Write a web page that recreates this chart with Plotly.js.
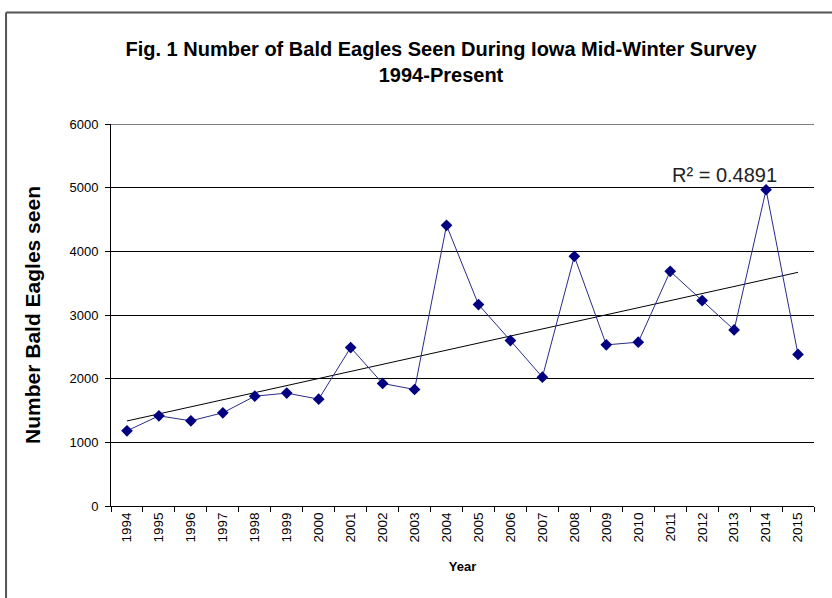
<!DOCTYPE html>
<html>
<head>
<meta charset="utf-8">
<script src="https://cdn.plot.ly/plotly-3.0.1.min.js"></script>
<style>html,body{margin:0;padding:0;background:#fff;}#chart{width:832px;height:598px;}</style>
</head>
<body>
<div id="chart"></div>
<script>
var years = ["1994","1995","1996","1997","1998","1999","2000","2001","2002","2003","2004","2005","2006","2007","2008","2009","2010","2011","2012","2013","2014","2015"];
var eagles = [1181,1416,1338,1464,1725,1773,1678,2489,1925,1830,4408,3164,2599,2024,3922,2531,2573,3686,3226,2766,4967,2380];
var yTicks = [0,1000,2000,3000,4000,5000,6000];
var r2Label = "R² = 0.4891";

// linear trendline (least squares over the year index)
var n = eagles.length, sx = 0, sy = 0, sxx = 0, sxy = 0;
for (var i = 0; i < n; i++) { sx += i; sy += eagles[i]; sxx += i*i; sxy += i*eagles[i]; }
var slope = (n*sxy - sx*sy) / (n*sxx - sx*sx);
var intercept = (sy - slope*sx) / n;
var trend = eagles.map(function(_, i){ return intercept + slope*i; });

var font = "Arial, 'Liberation Sans', sans-serif";

var data = [
  {x: years, y: trend, type: "scatter", mode: "lines", line: {color: "#000000", width: 1}, hoverinfo: "skip", showlegend: false},
  {x: years, y: eagles, type: "scatter", mode: "lines+markers",
   line: {color: "#2a2a8a", width: 1},
   marker: {symbol: "diamond", size: 9, color: "#000080"}, showlegend: false}
];

var layout = {
  width: 832, height: 598,
  paper_bgcolor: "#ffffff", plot_bgcolor: "#ffffff",
  margin: {l: 110.5, r: 18, t: 124, b: 92},
  font: {family: font, color: "#000"},
  title: {
    text: "<b>Fig. 1 Number of Bald Eagles Seen During Iowa Mid-Winter Survey<br>1994-Present</b>",
    font: {family: font, size: 20, color: "#000"},
    xref: "container", x: 441/832, xanchor: "center",
    yref: "container", y: 1 - 55.5/598, yanchor: "middle"
  },
  xaxis: {
    type: "category", tickson: "boundaries",
    ticks: "outside", ticklen: 5, tickcolor: "#000", tickwidth: 1,
    tickangle: -90, tickfont: {size: 13.5, family: font, color: "#000"},
    showline: true, linecolor: "#000", linewidth: 1,
    showgrid: false, zeroline: false,
    title: {text: "<b>Year</b>", font: {size: 13, family: font}, standoff: 20},
    range: [-0.5, 21.5], fixedrange: true
  },
  yaxis: {
    range: [0, 6000], tickvals: yTicks, ticktext: yTicks.map(String),
    ticks: "outside", ticklen: 5, tickcolor: "#000", tickwidth: 1,
    ticklabelstandoff: 4,
    tickfont: {size: 13, family: font, color: "#000"},
    showline: true, linecolor: "#000", linewidth: 1,
    showgrid: true, gridcolor: "#000", gridwidth: 1, zeroline: false,
    title: {text: "<b>Number Bald Eagles seen</b>", font: {size: 21, family: font}, standoff: 23},
    fixedrange: true
  },
  annotations: [
    {text: r2Label, xref: "paper", yref: "paper", x: 0.873, y: 0.866, xanchor: "center", yanchor: "middle",
     showarrow: false, font: {size: 20, family: font, color: "#222"}}
  ],
  shapes: [
    {type: "line", xref: "paper", yref: "y", x0: 0, x1: 1, y0: 6000, y1: 6000, line: {color: "#000", width: 1}},
    {type: "line", xref: "paper", yref: "paper", x0: -0.1493, x1: -0.1493, y0: 1.2919, y1: -0.4, line: {color: "#555", width: 2}},
    {type: "line", xref: "paper", yref: "paper", x0: -0.1493, x1: 1.2, y0: 1.2919, y1: 1.2919, line: {color: "#555", width: 2}}
  ]
};

Plotly.newPlot("chart", data, layout, {displayModeBar: false, staticPlot: true});
</script>
</body>
</html>
